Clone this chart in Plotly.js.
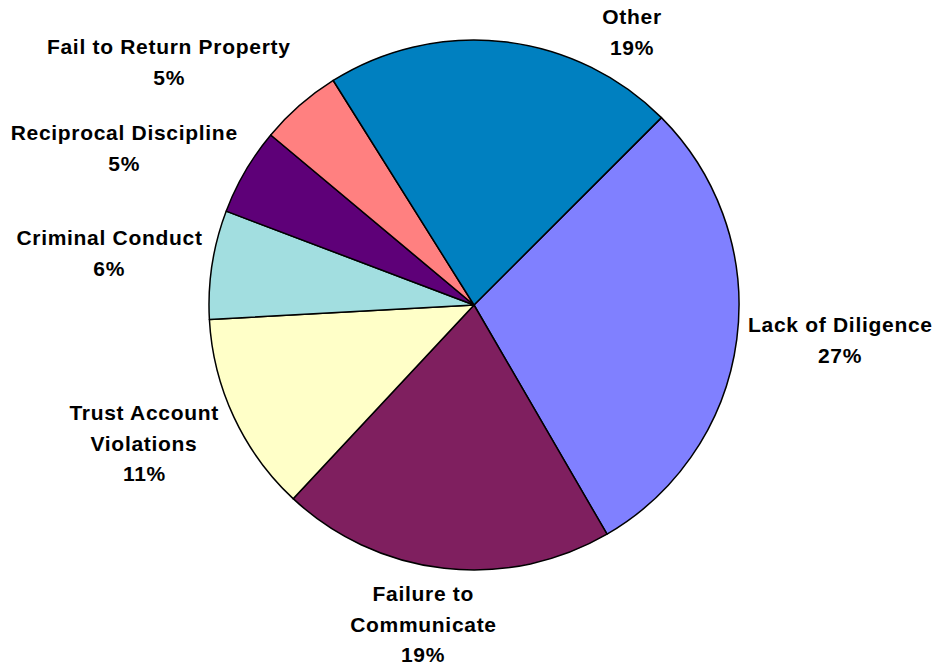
<!DOCTYPE html>
<html>
<head>
<meta charset="utf-8">
<script src="https://cdn.plot.ly/plotly-3.0.1.min.js"></script>
<style>
html,body{margin:0;padding:0;background:#fff;}
#chart{width:937px;height:666px;}
#chart .annotation-text{letter-spacing:0.7px;}
</style>
</head>
<body>
<div id="chart"></div>
<script>
// Data (clockwise from the Other/Lack of Diligence boundary)
var categories = ["Lack of Diligence", "Failure to Communicate", "Trust Account Violations",
                  "Criminal Conduct", "Reciprocal Discipline", "Fail to Return Property", "Other"];
var sliceValues = [26.8, 18.7, 11.2, 6.1, 4.9, 4.6, 19.7];
var percentLabels = ["27%", "19%", "11%", "6%", "5%", "5%", "19%"];
var labelLines = [["Lack of Diligence"], ["Failure to", "Communicate"], ["Trust Account", "Violations"],
                  ["Criminal Conduct"], ["Reciprocal Discipline"], ["Fail to Return Property"], ["Other"]];
var sliceColors = ["#8080FF", "#7F1F5F", "#FFFFC8", "#A2DEE0", "#5E0078", "#FF8080", "#0080C0"];

// Label placement (paper pixels, centre of each label block)
var labelPos = [[840, 340], [423, 624], [144, 443], [109, 253], [124, 148], [169, 62], [632, 32]];
var lineGap = 30.5;

var W = 937, H = 666;
var cx = 474, cy = 305, R = 265;

var trace = {
  type: "pie",
  labels: categories,
  values: sliceValues,
  sort: false,
  direction: "clockwise",
  rotation: 45,
  textinfo: "none",
  hoverinfo: "label+percent",
  marker: { colors: sliceColors, line: { color: "#000000", width: 1.5 } },
  domain: { x: [(cx - R) / W, (cx + R) / W], y: [(H - cy - R) / H, (H - cy + R) / H] },
  showlegend: false
};

var annotations = [];
categories.forEach(function (c, i) {
  var lines = labelLines[i].concat([percentLabels[i]]);
  var n = lines.length;
  lines.forEach(function (t, j) {
    var py = labelPos[i][1] + (j - (n - 1) / 2) * lineGap;
    annotations.push({
      xref: "paper", yref: "paper",
      x: labelPos[i][0] / W, y: 1 - py / H,
      xanchor: "center", yanchor: "middle",
      text: t,
      showarrow: false,
      align: "center",
      font: { family: "Liberation Sans, Arial, sans-serif", size: 21, color: "#000000", weight: "bold" }
    });
  });
});

var layout = {
  width: W, height: H,
  margin: { l: 0, r: 0, t: 0, b: 0 },
  paper_bgcolor: "#ffffff",
  plot_bgcolor: "#ffffff",
  showlegend: false,
  annotations: annotations
};

Plotly.newPlot("chart", [trace], layout, { displayModeBar: false, staticPlot: true });
</script>
</body>
</html>
